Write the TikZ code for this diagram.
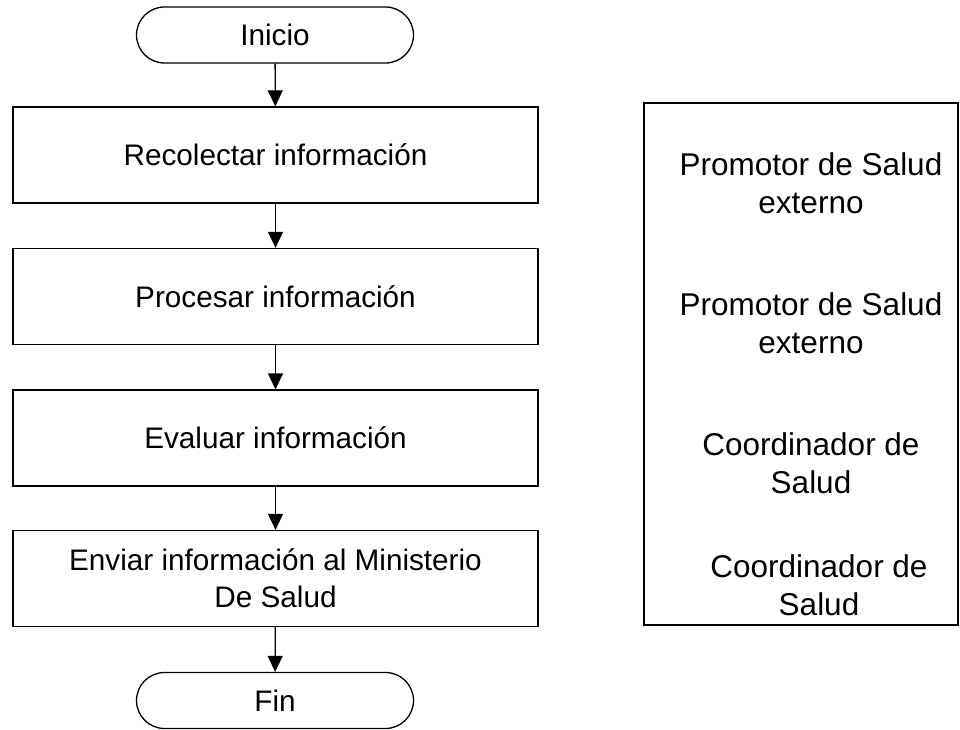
\documentclass[tikz,border=0pt]{standalone}
\usepackage{fontspec}
\setmainfont{Liberation Sans}
\usetikzlibrary{shapes.misc,arrows.meta}
\begin{document}
\begin{tikzpicture}[x=1pt,y=-1pt,
  every node/.style={font=\fontsize{29.7}{37}\selectfont, inner sep=0pt},
  term/.style={draw, line width=1.3pt, rounded rectangle, minimum width=277pt, minimum height=56pt},
  proc/.style={draw, line width=1.3pt, rectangle, minimum width=525pt, minimum height=96pt, align=center},
  role/.style={align=center, font=\fontsize{31.5}{38}\selectfont},
  flow/.style={line width=1.3pt, -{Triangle[width=15pt,length=16pt]}}]
\useasboundingbox (0,0) rectangle (960,730);
\node[term] (inicio) at (275,35) {Inicio};
\node[proc] (p1) at (275.5,155) {Recolectar información};
\node[proc] (p2) at (275.5,296.5) {Procesar información};
\node[proc] (p3) at (275.5,438) {Evaluar información};
\node[proc] (p4) at (275.5,578.5) {Enviar información al Ministerio\\De Salud};
\node[term] (fin) at (275,700.5) {Fin};
\draw[flow] (inicio) -- (p1);
\draw[flow] (p1) -- (p2);
\draw[flow] (p2) -- (p3);
\draw[flow] (p3) -- (p4);
\draw[flow] (p4) -- (fin);
\node[draw, line width=1.3pt, minimum width=314pt, minimum height=522pt] (roles) at (801,364) {};
\node[role] (r1) at (811,183) {Promotor de Salud\\externo};
\node[role] (r2) at (811,323) {Promotor de Salud\\externo};
\node[role] (r3) at (811,463) {Coordinador de\\Salud};
\node[role] (r4) at (819,585) {Coordinador de\\Salud};
\end{tikzpicture}
\end{document}
